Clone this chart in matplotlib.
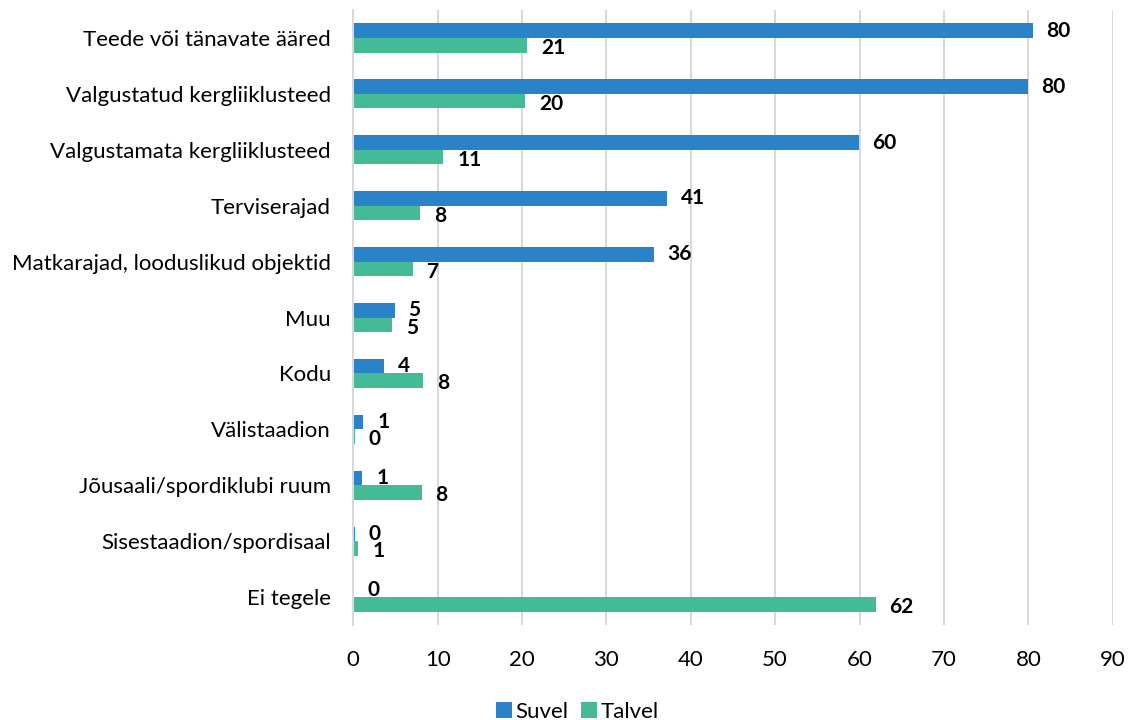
import matplotlib.pyplot as plt
import numpy as np

categories = [
	"Teede või tänavate ääred",
	"Valgustatud kergliiklusteed",
	"Valgustamata kergliiklusteed",
	"Terviserajad",
	"Matkarajad, looduslikud objektid",
	"Muu",
	"Kodu",
	"Välistaadion",
	"Jõusaali/spordiklubi ruum",
	"Sisestaadion/spordisaal",
	"Ei tegele",
]
suvel = [80.5, 79.9, 59.9, 37.2, 35.6, 4.9, 3.7, 1.2, 1.1, 0.2, 0.1]
talvel = [20.6, 20.4, 10.7, 7.9, 7.1, 4.6, 8.3, 0.2, 8.1, 0.6, 61.9]
suvel_labels = ["80", "80", "60", "41", "36", "5", "4", "1", "1", "0", "0"]
talvel_labels = ["21", "20", "11", "8", "7", "5", "8", "0", "8", "1", "62"]

blue = "#2A82C8"
green = "#44BB96"

plt.rcParams['font.family'] = ['Lato', 'DejaVu Sans']

fig = plt.figure(figsize=(11.32, 7.2), dpi=100)
ax = fig.add_axes([0.312, 0.132, 0.671, 0.854])

y = np.arange(len(categories))
h = 0.26
ax.barh(y - h / 2, suvel, height=h, color=blue, label="Suvel")
ax.barh(y + h / 2, talvel, height=h, color=green, label="Talvel")

for i in range(len(categories)):
	ax.annotate(suvel_labels[i], (suvel[i], y[i] - h / 2), xytext=(10, 0),
		textcoords="offset points", ha="left", va="center",
		fontsize=15, fontweight="bold")
	ax.annotate(talvel_labels[i], (talvel[i], y[i] + h / 2), xytext=(10, -2),
		textcoords="offset points", ha="left", va="center",
		fontsize=15, fontweight="bold")

ax.set_ylim(len(categories) - 0.5, -0.5)
ax.set_xlim(0, 90)
ax.set_xticks(range(0, 91, 10))
ax.set_yticks(y)
ax.set_yticklabels(categories, fontsize=16)
ax.tick_params(axis="x", labelsize=16, length=0, pad=18)
ax.tick_params(axis="y", length=0, pad=16)

ax.grid(axis="x", color="#d9d9d9", linewidth=1.5)
ax.set_axisbelow(True)
for s in ["top", "right", "bottom"]:
	ax.spines[s].set_visible(False)
ax.spines["left"].set_color("#d9d9d9")
ax.spines["left"].set_linewidth(1.5)

fig.legend(loc="lower center", bbox_to_anchor=(0.51, -0.03), ncol=2, frameon=False,
	fontsize=16, handlelength=0.7, handleheight=0.7, handletextpad=0.15, columnspacing=0.6)

fig.savefig("out.png", dpi=100)
